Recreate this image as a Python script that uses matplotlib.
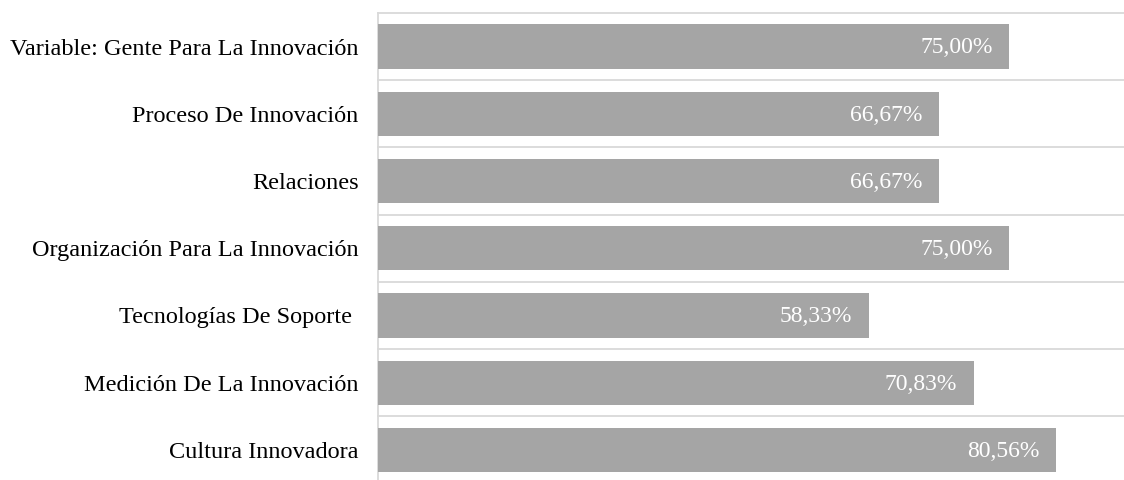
import numpy as np
import matplotlib.pyplot as plt

plt.rcParams['font.family'] = ['Liberation Serif', 'DejaVu Serif']

# Porcentajes por variable (de arriba hacia abajo)
categorias = [
    "Variable: Gente Para La Innovación",
    "Proceso De Innovación",
    "Relaciones",
    "Organización Para La Innovación",
    "Tecnologías De Soporte ",
    "Medición De La Innovación",
    "Cultura Innovadora",
]
porcentajes = [75.00, 66.67, 66.67, 75.00, 58.33, 70.83, 80.56]
etiquetas = ["75,00%", "66,67%", "66,67%", "75,00%", "58,33%", "70,83%", "80,56%"]

fig = plt.figure(figsize=(11.24, 4.8), dpi=100)
ax = fig.add_axes([378 / 1124, 1 - 483.6 / 480, 746 / 1124, (483.6 - 12.9) / 480])

y = np.arange(len(categorias))
ax.barh(y, porcentajes, height=0.655, color='#a5a5a5', zorder=3)

for yi, v, txt in zip(y, porcentajes, etiquetas):
    ax.annotate(txt, (v, yi), xytext=(-12, -1), textcoords='offset points',
                ha='right', va='center', color='white', fontsize=17, zorder=4)

ax.set_xlim(0, 746 / 8.415)
ax.set_ylim(len(categorias) - 0.5, -0.5)

# líneas de separación entre categorías
for b in np.arange(-0.5, len(categorias) + 0.5, 1):
    ax.axhline(b, color='#d9d9d9', lw=1.3, zorder=1, clip_on=False)

ax.set_yticks(y)
ax.set_yticklabels(categorias, fontsize=17.5)
ax.tick_params(axis='y', length=0, pad=14)
ax.set_xticks([])

for s in ['top', 'right', 'bottom']:
    ax.spines[s].set_visible(False)
ax.spines['left'].set_color('#d9d9d9')
ax.spines['left'].set_linewidth(1.3)

fig.savefig('out.png', dpi=100)
